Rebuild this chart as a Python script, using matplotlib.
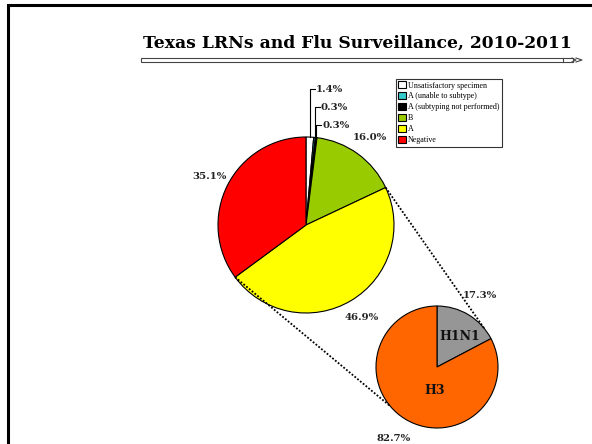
import numpy as np
import matplotlib
matplotlib.use("Agg")
import matplotlib.pyplot as plt
from matplotlib.patches import Patch, Rectangle

# main pie: Texas LRN results
main_labels = ['Unsatisfactory specimen', 'A (unable to subtype)',
               'A (subtyping not performed)', 'B', 'A', 'Negative']
main_values = [1.4, 0.3, 0.3, 16.0, 46.9, 35.1]
main_colors = ['#FFFFFF', '#33CCCC', '#000000', '#99CC00', '#FFFF00', '#FF0000']

# second pie: subtypes of flu A
sub_labels = ['H1N1', 'H3']
sub_values = [17.3, 82.7]
sub_colors = ['#969696', '#FF6600']

title = 'Texas LRNs and Flu Surveillance, 2010-2011'

W, H = 592, 444
serif = ['DejaVu Serif']

fig = plt.figure(figsize=(W / 100, H / 100), dpi=100)
ax = fig.add_axes([0, 0, 1, 1])

def py(y):
    # pixel row -> data y
    return H - y

main_c = (306, py(225))
main_r = 88
sub_c = (437, py(367))
sub_r = 61

edge = dict(edgecolor='black', linewidth=0.8)
pct_font = dict(family=serif, fontsize=7.3, fontweight='bold', color='#222222')

# big slices get autopct labels, tiny ones get leader lines
def main_pct(p):
    return '%.1f%%' % p if p > 5 else ''

wedges, _, pcts = ax.pie(main_values, colors=main_colors, startangle=90,
                         counterclock=False, center=main_c, radius=main_r,
                         wedgeprops=edge, autopct=main_pct, pctdistance=1.23,
                         textprops=pct_font)

sub_wedges, _, sub_pcts = ax.pie(sub_values, colors=sub_colors, startangle=90,
                                 counterclock=False, center=sub_c, radius=sub_r,
                                 wedgeprops=edge, autopct='%.1f%%',
                                 pctdistance=1.36, textprops=pct_font)

# leader lines for the small slices
leader_y = [89, 107, 125]
for w, v, ly in zip(wedges[:3], main_values[:3], leader_y):
    mid = np.deg2rad((w.theta1 + w.theta2) / 2)
    x0 = main_c[0] + main_r * np.cos(mid)
    y0 = main_c[1] + main_r * np.sin(mid)
    ax.plot([x0, x0, x0 + 5], [y0, py(ly), py(ly)], color='black', lw=0.8)
    ax.text(x0 + 6, py(ly), '%.1f%%' % v, va='center', ha='left', **pct_font)

# labels inside the subtype pie
ax.text(460, py(336), sub_labels[0], family=serif, fontsize=9,
        fontweight='bold', ha='center', va='center', color='#111111')
ax.text(435, py(390), sub_labels[1], family=serif, fontsize=9,
        fontweight='bold', ha='center', va='center', color='#111111')

# dotted connectors from the A slice to the subtype pie
a_w = wedges[4]
for ang, target in [(a_w.theta2, 39), (a_w.theta1, -140)]:
    t0 = np.deg2rad(ang)
    t1 = np.deg2rad(target)
    ax.plot([main_c[0] + main_r * np.cos(t0), sub_c[0] + sub_r * np.cos(t1)],
            [main_c[1] + main_r * np.sin(t0), sub_c[1] + sub_r * np.sin(t1)],
            color='black', lw=1.3, ls=(0, (1, 1)))

# slide frame
ax.plot([8, 8, W + 5], [-5, py(5), py(5)], color='black', lw=2.2,
        solid_joinstyle='miter')

ax.text(357, py(43), title, family=serif, fontsize=12.3, fontweight='bold',
        ha='center', va='center', color='black')

# scroll-like bar under the title
ax.add_patch(Rectangle((141, py(62)), 432, 4, facecolor='white',
                       edgecolor='#444444', lw=0.8))
ax.plot([563, 563], [py(62), py(58)], color='#444444', lw=0.8)
ax.plot([572, 576, 572], [py(62), py(60), py(58)], color='#444444', lw=0.8)
ax.plot([576, 582, 576], [py(62), py(60), py(58)], color='#444444', lw=0.8)

handles = [Patch(facecolor=c, edgecolor='black', lw=0.8) for c in main_colors]
leg = ax.legend(handles, main_labels, loc='upper left',
                bbox_to_anchor=(396 / W, 1 - 79 / H),
                bbox_transform=fig.transFigure, prop=dict(family=['Liberation Serif'], size=5.8),
                frameon=True, fancybox=False, edgecolor='black',
                handlelength=0.9, handleheight=0.9, handletextpad=0.3,
                labelspacing=0.35, borderpad=0.3, borderaxespad=0)
leg.get_frame().set_linewidth(0.8)

ax.set_xlim(0, W)
ax.set_ylim(0, H)
ax.set_aspect('auto')
ax.axis('off')

fig.savefig('out.png', dpi=100)
